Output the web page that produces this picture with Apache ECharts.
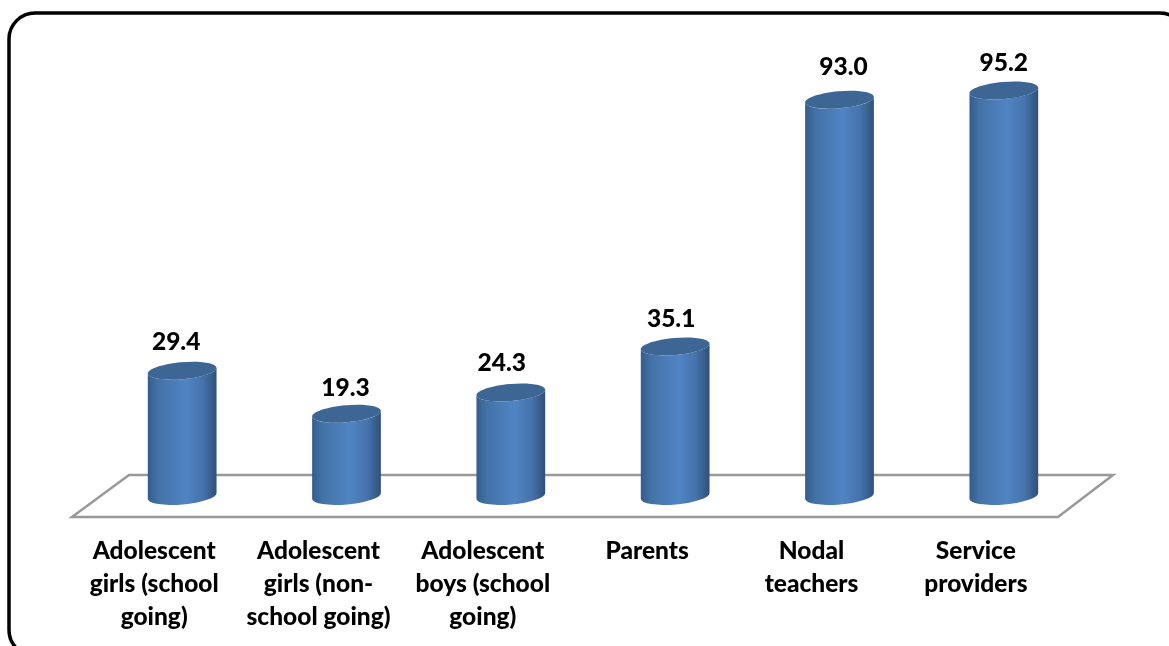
<!DOCTYPE html>
<html><head><meta charset="utf-8">
<style>html,body{margin:0;padding:0;background:#fff}#c{width:1169px;height:646px}</style>
<script src="https://cdn.jsdelivr.net/npm/echarts@6/dist/echarts.min.js"></script>
</head><body><div id="c"></div>
<script>
const categories = ['Adolescent\ngirls (school\ngoing)','Adolescent\ngirls (non-\nschool going)','Adolescent\nboys (school\ngoing)','Parents','Nodal\nteachers','Service\nproviders'];
const values = [29.4,19.3,24.3,35.1,93.0,95.2];
const labelNudgeX = [-6,-1,-9,-4,4,0];
const labelNudgeY = [-1,2,-1,1,-5,1];

const FONT = 'Lato, "Open Sans", sans-serif';
const rx = 34.5, ry = 8.5, tilt = -5 * Math.PI / 180;
const dy = Math.sin(tilt) * rx, dx = Math.cos(tilt) * rx;

function renderItem(params, api) {
  const i = api.value(0);
  const top = api.coord([i, api.value(1)]);
  const base = api.coord([i, 0]);
  const cx = top[0];
  const deg = tilt * 180 / Math.PI;
  const body = `M${cx-dx} ${top[1]-dy} L${cx-dx} ${base[1]-dy} ` +
    `A${rx} ${ry} ${deg} 0 0 ${cx+dx} ${base[1]+dy} L${cx+dx} ${top[1]+dy} ` +
    `A${rx} ${ry} ${deg} 0 1 ${cx-dx} ${top[1]-dy} Z`;
  return {
    type: 'group',
    children: [
      { type: 'path', shape: { pathData: body },
        style: { fill: new echarts.graphic.LinearGradient(0,0,1,0,[
          {offset:0,color:'#335c8c'},{offset:0.15,color:'#4372a6'},
          {offset:0.55,color:'#5084c4'},{offset:0.8,color:'#4673ab'},{offset:1,color:'#2f5079'}]) } },
      { type: 'ellipse', shape: { cx: cx, cy: top[1], rx: rx, ry: ry }, rotation: -tilt,
        originX: cx, originY: top[1], style: { fill: '#3e6694' } },
      { type: 'text', style: { text: api.value(1).toFixed(1), x: cx + labelNudgeX[i], y: top[1] - 28 + labelNudgeY[i],
        align: 'center', verticalAlign: 'middle', font: '900 24.5px ' + FONT, fill: '#000' } }
    ]
  };
}

const chart = echarts.init(document.getElementById('c'), null, { renderer: 'canvas' });
chart.setOption({
  animation: false,
  backgroundColor: '#fff',
  grid: { left: 100, width: 986, top: 70, height: 426 },
  xAxis: { type: 'category', data: categories, axisLine: {show:false}, axisTick: {show:false},
    axisLabel: { interval: 0, margin: 39, color: '#000', fontFamily: FONT, fontWeight: 900, fontSize: 24.5,
      lineHeight: 33, align: 'center', verticalAlign: 'top', padding: [0,56,0,0] } },
  yAxis: { type: 'value', min: 0, max: 100, show: false },
  graphic: [
    { type: 'polygon', z: -1, shape: { points: [[72,517],[1058,517],[1113,475],[129,475]] },
      style: { fill: '#fff', stroke: '#999', lineWidth: 2.5 } },
    { type: 'rect', z: -2, shape: { x: 9, y: 13, width: 1177, height: 643, r: 26 },
      style: { fill: '#fff', stroke: '#000', lineWidth: 3.5 } }
  ],
  series: [{ type: 'custom', coordinateSystem: 'cartesian2d', renderItem, z: 5, clip: false,
    data: values.map((v,i)=>[i,v]), encode: { x: 0, y: 1 } }]
});
</script></body></html>
